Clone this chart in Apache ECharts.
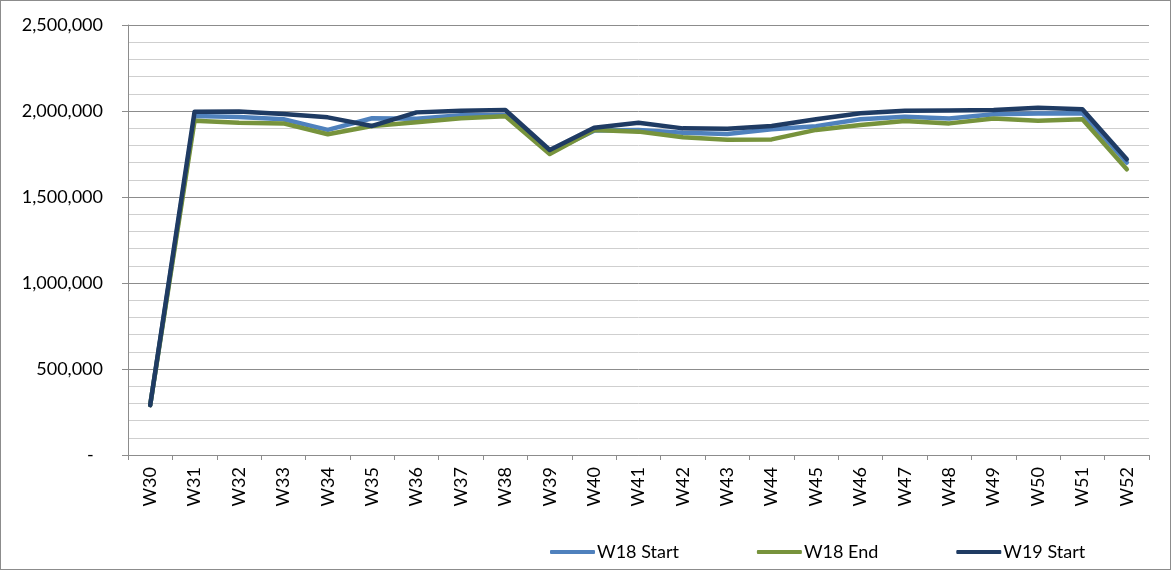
<!DOCTYPE html>
<html>
<head>
<meta charset="utf-8">
<script src="https://cdn.jsdelivr.net/npm/echarts@6/dist/echarts.min.js"></script>
<style>
  html, body { margin: 0; padding: 0; background: #fff; }
  #main { width: 1171px; height: 570px; box-sizing: border-box; border: 1px solid #8c8c8c; }
</style>
</head>
<body>
<div id="main"></div>
<script>
// weeks on the x axis
var weeks = ['W30', 'W31', 'W32', 'W33', 'W34', 'W35', 'W36', 'W37', 'W38', 'W39', 'W40', 'W41',
  'W42', 'W43', 'W44', 'W45', 'W46', 'W47', 'W48', 'W49', 'W50', 'W51', 'W52'];

// values
var w18Start = [290000, 1971000, 1965000, 1952000, 1890000, 1958000, 1955000, 1975000, 1975000, 1760000,
  1886000, 1890000, 1874000, 1866000, 1894000, 1912000, 1952000, 1967000, 1957000, 1981000, 1985000, 1987000, 1700000];
var w18End = [290000, 1944000, 1932000, 1928000, 1865000, 1913000, 1935000, 1958000, 1970000, 1750000,
  1890000, 1880000, 1847000, 1833000, 1835000, 1890000, 1919000, 1942000, 1928000, 1957000, 1944000, 1952000, 1661000];
var w19Start = [290000, 1996000, 1997000, 1983000, 1963000, 1913000, 1992000, 2002000, 2006000, 1773000,
  1903000, 1932000, 1899000, 1897000, 1913000, 1952000, 1987000, 2002000, 2003000, 2006000, 2019000, 2010000, 1719000];

var yTicks = { min: 0, max: 2500000, interval: 500000 };

var font = 'Lato, "Open Sans", sans-serif';

var myChart = echarts.init(document.getElementById('main'));

function lineSeries(name, data, color) {
  return {
    name: name,
    type: 'line',
    data: data,
    symbol: 'none',
    lineStyle: { color: color, width: 4.5, cap: 'round', join: 'round' },
    itemStyle: { color: color }
  };
}

var option = {
  animation: false,
  grid: { left: 127, top: 24, right: 21, bottom: 114 },
  legend: {
    left: 544,
    top: 537,
    icon: 'roundRect',
    itemWidth: 45,
    itemHeight: 4,
    itemGap: 78,
    textStyle: { fontFamily: font, fontSize: 18, color: '#000', padding: [0, 0, 0, -3] },
    data: ['W18 Start', 'W18 End', 'W19 Start']
  },
  xAxis: {
    type: 'category',
    data: weeks,
    boundaryGap: true,
    axisLine: { lineStyle: { color: '#8c8c8c', width: 1 } },
    axisTick: { show: true, length: 5, lineStyle: { color: '#8c8c8c' } },
    axisLabel: { rotate: 90, margin: 12, fontFamily: font, fontSize: 18, color: '#000', interval: 0 },
    splitLine: { show: false }
  },
  yAxis: {
    type: 'value',
    min: yTicks.min,
    max: yTicks.max,
    interval: yTicks.interval,
    axisLine: { show: true, lineStyle: { color: '#8c8c8c', width: 1 } },
    axisTick: { show: true, length: 6, lineStyle: { color: '#8c8c8c' } },
    axisLabel: {
      margin: 25,
      fontFamily: font,
      fontSize: 18,
      color: '#000',
      formatter: function (v) {
        return v === 0 ? '-  ' : v.toLocaleString('en-US');
      }
    },
    splitLine: { show: true, lineStyle: { color: '#8c8c8c', width: 1 } },
    minorTick: { show: false, splitNumber: 5 },
    minorSplitLine: { show: true, lineStyle: { color: '#cfcfcf', width: 1 } }
  },
  series: [
    lineSeries('W18 Start', w18Start, '#4f81bd'),
    lineSeries('W18 End', w18End, '#77933c'),
    lineSeries('W19 Start', w19Start, '#1f3b63')
  ]
};

myChart.setOption(option);
</script>
</body>
</html>
